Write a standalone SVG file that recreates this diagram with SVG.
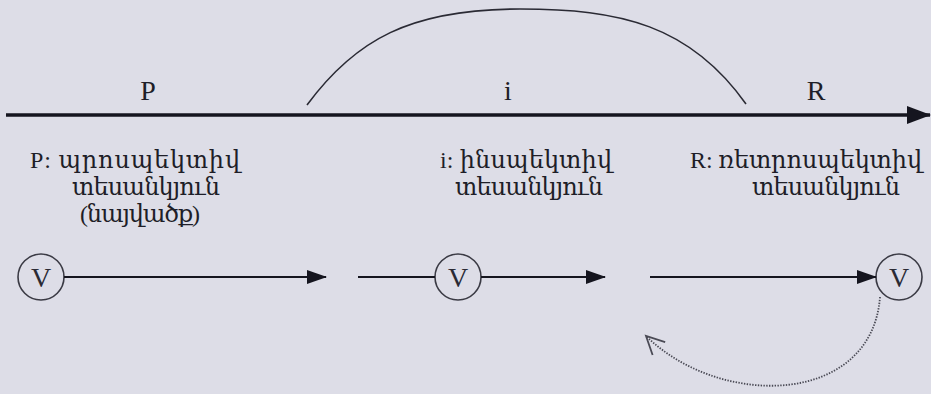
<svg xmlns="http://www.w3.org/2000/svg" width="931" height="394" viewBox="0 0 931 394">
<style>
.t{font-family:"Liberation Serif","DejaVu Serif",serif;fill:#1e1e28;font-size:24px}
.lbl{font-family:"Liberation Serif",serif;fill:#1e1e28;font-size:28px;text-anchor:middle}
.v{font-family:"Liberation Serif",serif;fill:#2a2a34;font-size:28px;text-anchor:middle}
.node circle{fill:none;stroke:#3a3a44;stroke-width:1.6}
.ln{stroke:#15151f;stroke-width:2.2;fill:none}
.axis{stroke:#15151f;stroke-width:3.5;fill:none}
.arc{stroke:#2a2a34;stroke-width:1.6;fill:none}
.dot{stroke:#4a4a55;stroke-width:1.8;fill:none;stroke-dasharray:1.4 1.4}
</style>
<defs>
<marker id="ah" viewBox="0 0 20 14" refX="19" refY="7" markerWidth="20" markerHeight="14" markerUnits="userSpaceOnUse" orient="auto">
<path d="M0,0 L20,7 L0,14 Z" fill="#15151f"/>
</marker>
<marker id="ahBig" viewBox="0 0 24 18" refX="23" refY="9" markerWidth="24" markerHeight="18" markerUnits="userSpaceOnUse" orient="auto">
<path d="M0,0 L24,9 L0,18 Z" fill="#15151f"/>
</marker>
<marker id="open" viewBox="0 0 24 24" refX="21" refY="12" markerWidth="24" markerHeight="24" markerUnits="userSpaceOnUse" orient="auto">
<path d="M3,3 L21,12 L3,21" fill="none" stroke="#4a4a55" stroke-width="1.8"/>
</marker>
</defs>
<rect width="931" height="394" fill="#dddde7"/>
<g id="timeline">
<path class="arc" d="M307,105 C355,40 410,9 520,9 C620,9 690,25 746,104"/>
<text class="lbl" x="148" y="100">P</text>
<text class="lbl" x="508" y="100">i</text>
<text class="lbl" x="816" y="100">R</text>
</g>
<g id="text-P">
<text class="t" x="30" y="168" textLength="210">P: պրոսպեկտիվ</text>
<text class="t" x="72" y="195" textLength="148">տեսանկյուն</text>
<text class="t" x="80" y="222" textLength="120">(նայվածք)</text>
</g>
<g id="text-i">
<text class="t" x="440" y="168" textLength="172">i: ինսպեկտիվ</text>
<text class="t" x="455" y="195" textLength="148">տեսանկյուն</text>
</g>
<g id="text-R">
<text class="t" x="690" y="168" textLength="232">R: ռետրոսպեկտիվ</text>
<text class="t" x="752" y="195" textLength="148">տեսանկյուն</text>
</g>
<g id="node-v1" class="node">
<circle cx="41" cy="277" r="23"/>
<text class="v" x="41" y="287">V</text>
</g>
<g id="node-v2" class="node">
<circle cx="458" cy="277" r="23"/>
<text class="v" x="458" y="287">V</text>
</g>
<g id="node-v3" class="node">
<circle cx="899" cy="277" r="23"/>
<text class="v" x="899" y="287">V</text>
</g>
<g id="connectors">
<line class="axis" x1="6" y1="115" x2="930" y2="115" marker-end="url(#ahBig)"/>
<line class="ln" x1="64" y1="277" x2="326" y2="277" marker-end="url(#ah)"/>
<line class="ln" x1="358" y1="277" x2="435" y2="277"/>
<line class="ln" x1="481" y1="277" x2="605" y2="277" marker-end="url(#ah)"/>
<line class="ln" x1="650" y1="277" x2="876" y2="277" marker-end="url(#ah)"/>
<path class="dot" d="M880,297 C872,405 722,410 646,336" marker-end="url(#open)"/>
</g>
</svg>
